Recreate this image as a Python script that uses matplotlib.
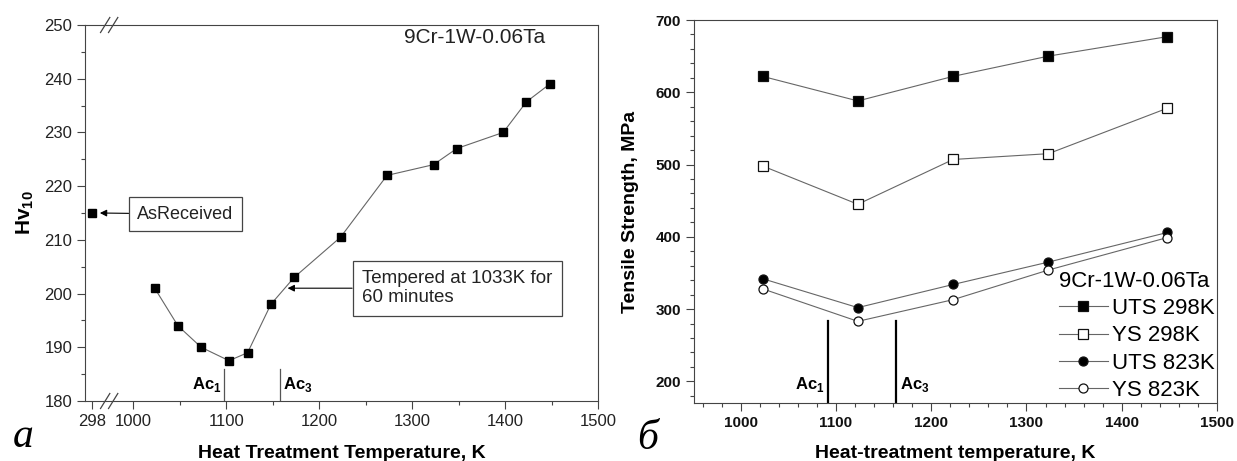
import matplotlib
matplotlib.use("Agg")
import matplotlib.pyplot as plt
from matplotlib.ticker import MultipleLocator, FixedLocator
import matplotlib.transforms as mtransforms

plt.rcParams['font.family'] = ['Liberation Sans', 'DejaVu Sans']
plt.rcParams['mathtext.fontset'] = 'custom'
plt.rcParams['mathtext.rm'] = 'Liberation Sans'
plt.rcParams['mathtext.bf'] = 'Liberation Sans:bold'

# ---------------- data: left panel (hardness) ----------------
hv_temps = [1023, 1048, 1073, 1103, 1123, 1148, 1173, 1223, 1273, 1323, 1348, 1398, 1423, 1448]
hv_values = [201, 194, 190, 187.5, 189, 198, 203, 210.5, 222, 224, 227, 230, 235.7, 239]
as_received_temp = 298
as_received_hv = 215
left_ac1 = 1098
left_ac3 = 1158
left_xticks = [1000, 1100, 1200, 1300, 1400, 1500]
left_yticks = [180, 190, 200, 210, 220, 230, 240, 250]

# ---------------- data: right panel (tensile) ----------------
ts_temps = [1023, 1123, 1223, 1323, 1448]
uts_298 = [622, 588, 622, 650, 677]
ys_298 = [498, 445, 507, 515, 578]
uts_823 = [342, 302, 334, 365, 406]
ys_823 = [328, 283, 313, 354, 399]
right_ac1 = 1092
right_ac3 = 1163
right_xticks = [1000, 1100, 1200, 1300, 1400, 1500]
right_yticks = [200, 300, 400, 500, 600, 700]

W, H = 1237, 461
fig = plt.figure(figsize=(W / 100, H / 100), dpi=100)

def rect(l, t, r, b):
    return [l / W, 1 - b / H, (r - l) / W, (b - t) / H]

spine_c = '#444444'
line_c = '#666666'

# ======================= LEFT PANEL =======================
axL = fig.add_axes(rect(85, 25, 598, 401))
xmin_L = 948
break_x = 974
ar_pos = 955.5   # display position of the 298 K point on the broken axis

axL.plot(hv_temps, hv_values, '-', color=line_c, lw=0.8, zorder=2)
axL.plot(hv_temps, hv_values, 's', color='black', ms=6, zorder=3)
axL.plot([ar_pos], [as_received_hv], 's', color='black', ms=6, zorder=3)

axL.set_xlim(xmin_L, 1500)
axL.set_ylim(180, 250)
axL.xaxis.set_major_locator(FixedLocator([ar_pos] + left_xticks))
axL.set_xticklabels([str(as_received_temp)] + [str(t) for t in left_xticks])
axL.xaxis.set_minor_locator(FixedLocator([1050, 1150, 1250, 1350, 1450]))
axL.yaxis.set_major_locator(FixedLocator(left_yticks))
axL.yaxis.set_minor_locator(MultipleLocator(5))
axL.tick_params(which='both', direction='out', colors=spine_c, labelcolor='#222222',
                labelsize=12, width=0.8, top=False, right=False)
axL.tick_params(which='major', length=5.5)
axL.tick_params(which='minor', length=3)
for s in axL.spines.values():
    s.set_color(spine_c)
    s.set_linewidth(0.8)

axL.set_xlabel('Heat Treatment Temperature, K', fontsize=14, fontweight='bold', labelpad=12)
axL.set_ylabel(r'Hv$_{\mathbf{10}}$', fontsize=15, fontweight='bold', labelpad=6)

# break marks
trans = mtransforms.blended_transform_factory(axL.transData, axL.transAxes)
offs = [mtransforms.offset_copy(trans, fig=fig, x=dx, y=0, units='dots') for dx in (-4, 4)]
for yb in (0, 1):
    for tr in offs:
        axL.plot([break_x - 5, break_x + 5], [yb - 0.02, yb + 0.02], color=spine_c, lw=0.9,
                 transform=tr, clip_on=False, zorder=5)

# Ac lines
for xv in (left_ac1, left_ac3):
    axL.plot([xv, xv], [180, 186], color='#555555', lw=0.9)
axL.text(left_ac1 - 3, 181.3, r'Ac$_{\mathbf{1}}$', ha='right', va='bottom', fontsize=12, fontweight='bold')
axL.text(left_ac3 + 3, 181.3, r'Ac$_{\mathbf{3}}$', ha='left', va='bottom', fontsize=12, fontweight='bold')

axL.text(1367, 247.6, '9Cr-1W-0.06Ta', ha='center', va='center', fontsize=15, color='#222222')

axL.annotate('AsReceived', xy=(964, as_received_hv), xytext=(1056, 214.8),
             ha='center', va='center', fontsize=13, color='#222222',
             bbox=dict(boxstyle='square,pad=0.45', fc='white', ec='#444444', lw=0.9),
             arrowprops=dict(arrowstyle='-|>', color='black', lw=0.8, shrinkA=0, shrinkB=0,
                             mutation_scale=10))
axL.annotate('Tempered at 1033K for\n60 minutes', xy=(1166, 201), xytext=(1246, 201),
             ha='left', va='center', fontsize=13.5, color='#222222', linespacing=1.15,
             bbox=dict(boxstyle='square,pad=0.5', fc='white', ec='#444444', lw=0.9),
             arrowprops=dict(arrowstyle='-|>', color='black', lw=0.8, shrinkA=0, shrinkB=0,
                             mutation_scale=10))

fig.text(13 / W, 1 - 456 / H, 'a', fontsize=30, fontstyle='italic', family='Liberation Serif',
         ha='left', va='bottom')

# ======================= RIGHT PANEL =======================
axR = fig.add_axes(rect(694, 20, 1217, 403))
series = [
    (uts_298, 's', 'black', 'UTS 298K'),
    (ys_298, 's', 'white', 'YS 298K'),
    (uts_823, 'o', 'black', 'UTS 823K'),
    (ys_823, 'o', 'white', 'YS 823K'),
]
for vals, mk, fc, lab in series:
    axR.plot(ts_temps, vals, '-', color=line_c, lw=0.8, marker=mk, mfc=fc, mec='#111111',
             mew=0.9, ms=6.5, label=lab)

axR.plot([right_ac1, right_ac1], [170, 284], color='black', lw=1.6)
axR.plot([right_ac3, right_ac3], [170, 284], color='black', lw=1.6)
axR.text(right_ac1 - 4, 182, r'Ac$_{\mathbf{1}}$', ha='right', va='bottom', fontsize=12, fontweight='bold')
axR.text(right_ac3 + 4, 182, r'Ac$_{\mathbf{3}}$', ha='left', va='bottom', fontsize=12, fontweight='bold')

axR.set_xlim(951, 1500)
axR.set_ylim(170, 700)
axR.xaxis.set_major_locator(FixedLocator(right_xticks))
axR.xaxis.set_minor_locator(MultipleLocator(20))
axR.yaxis.set_major_locator(FixedLocator(right_yticks))
axR.yaxis.set_minor_locator(MultipleLocator(20))
axR.tick_params(which='both', direction='out', colors=spine_c, labelcolor='#111111',
                labelsize=11, width=0.8, top=False, right=False)
axR.tick_params(which='major', length=6)
axR.tick_params(which='minor', length=3)
for lab in axR.get_xticklabels() + axR.get_yticklabels():
    lab.set_fontweight('bold')
for s in axR.spines.values():
    s.set_color(spine_c)
    s.set_linewidth(0.8)

axR.set_xlabel('Heat-treatment temperature, K', fontsize=14, fontweight='bold', labelpad=11)
axR.set_ylabel('Tensile Strength, MPa', fontsize=14, fontweight='bold', labelpad=12)

leg = axR.legend(title='9Cr-1W-0.06Ta', loc='lower right', frameon=False, fontsize=16,
                 title_fontsize=16, handlelength=2.2, handletextpad=0.2, labelspacing=0.28,
                 borderaxespad=0.0, borderpad=0.1, alignment='left',
                 bbox_to_anchor=(1.0, 0.0))

fig.text(637 / W, 1 - 458 / H, 'б', fontsize=30, fontstyle='italic', family='Liberation Serif',
         ha='left', va='bottom')

fig.savefig('out.png', dpi=100)
